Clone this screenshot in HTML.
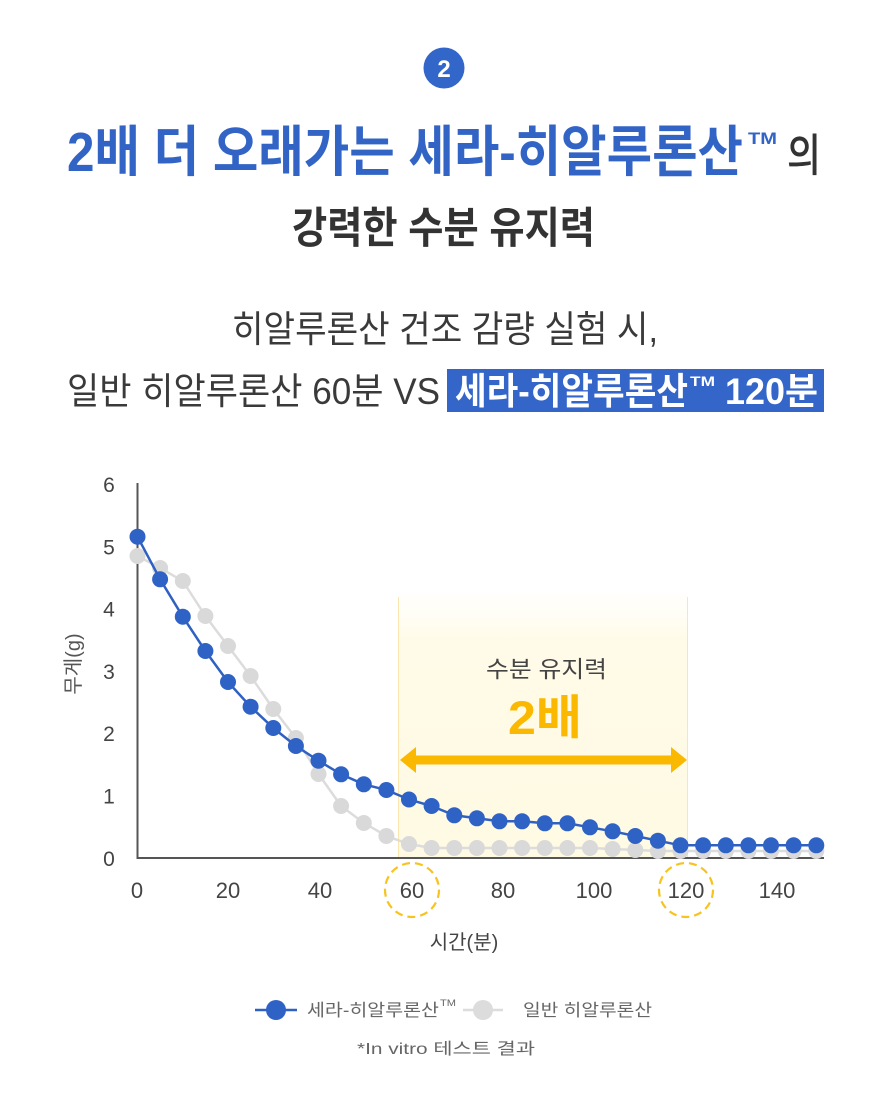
<!DOCTYPE html>
<html>
<head>
<meta charset="utf-8">
<style>
  html,body{margin:0;padding:0;background:#fff;}
  svg{display:block;}
  text{font-family:"Liberation Sans","Noto Sans CJK KR",sans-serif;}
</style>
</head>
<body>
<svg width="888" height="1097" viewBox="0 0 888 1097" xmlns="http://www.w3.org/2000/svg">
  <defs>
    <linearGradient id="hl" x1="0" y1="0" x2="0" y2="1">
      <stop offset="0" stop-color="#fffdf4" stop-opacity="0.3"/>
      <stop offset="0.18" stop-color="#fffbe8"/>
      <stop offset="1" stop-color="#fffae3"/>
    </linearGradient>
  </defs>
  <rect width="888" height="1097" fill="#fff"/>

  <!-- badge -->
  <circle cx="444" cy="68" r="20.5" fill="#3366c9"/>
  <text x="444" y="77" font-size="24" font-weight="bold" fill="#fff" text-anchor="middle">2</text>

  <!-- title -->
  <text x="67" y="171" font-size="55" font-weight="bold" fill="#3264c6" textLength="676" lengthAdjust="spacingAndGlyphs">2배 더 오래가는 세라-히알루론산</text>
  <text x="748" y="144" font-size="17" font-weight="bold" fill="#3264c6" textLength="29" lengthAdjust="spacingAndGlyphs">TM</text>
  <text x="787" y="171" font-size="45" font-weight="500" fill="#333" textLength="34" lengthAdjust="spacingAndGlyphs">의</text>
  <text x="292" y="243" font-size="43" font-weight="bold" fill="#333" textLength="303" lengthAdjust="spacingAndGlyphs">강력한 수분 유지력</text>

  <!-- subtitle -->
  <text x="232" y="342" font-size="37" fill="#3a3a3a" textLength="426" lengthAdjust="spacingAndGlyphs">히알루론산 건조 감량 실험 시,</text>
  <text x="67" y="404" font-size="37" fill="#3a3a3a" textLength="373" lengthAdjust="spacingAndGlyphs">일반 히알루론산 60분 VS</text>
  <rect x="447" y="369" width="377" height="43" fill="#3465c8"/>
  <text x="455" y="404" font-size="37" font-weight="bold" fill="#fff" textLength="233" lengthAdjust="spacingAndGlyphs">세라-히알루론산</text>
  <text x="690" y="386" font-size="14" font-weight="bold" fill="#fff" textLength="25" lengthAdjust="spacingAndGlyphs">TM</text>
  <text x="725" y="404" font-size="37" font-weight="bold" fill="#fff" textLength="93" lengthAdjust="spacingAndGlyphs">120분</text>

  <!-- highlight band -->
  <rect x="398" y="593" width="290" height="265" fill="url(#hl)"/>
  <line x1="398.5" y1="597" x2="398.5" y2="858" stroke="#fbe7ad" stroke-width="1"/>
  <line x1="687.5" y1="597" x2="687.5" y2="858" stroke="#fbe7ad" stroke-width="1"/>
  <text x="486" y="677" font-size="23" fill="#444" textLength="121" lengthAdjust="spacingAndGlyphs">수분 유지력</text>
  <text x="508" y="734" font-size="47" font-weight="bold" fill="#fbb800" textLength="74" lengthAdjust="spacingAndGlyphs">2배</text>
  <!-- arrow -->
  <rect x="412" y="755.5" width="262" height="9" fill="#fbb800"/>
  <polygon points="400,760 416,747 416,773" fill="#fbb800"/>
  <polygon points="687,760 671,747 671,773" fill="#fbb800"/>

  <!-- axes -->
  <line x1="137.5" y1="483" x2="137.5" y2="859" stroke="#555" stroke-width="2"/>
  <line x1="137" y1="858" x2="824" y2="858" stroke="#555" stroke-width="2"/>

  <!-- y tick labels -->
  <g font-size="21" fill="#444" text-anchor="middle">
    <text x="109" y="492">6</text>
    <text x="109" y="554.5">5</text>
    <text x="109" y="616.5">4</text>
    <text x="109" y="679">3</text>
    <text x="109" y="741">2</text>
    <text x="109" y="803.5">1</text>
    <text x="109" y="866">0</text>
  </g>
  <text transform="translate(80,664) rotate(-90)" font-size="20" fill="#555" text-anchor="middle">무게(g)</text>

  <!-- x tick labels -->
  <g font-size="22" fill="#444" text-anchor="middle">
    <text x="137" y="898">0</text>
    <text x="228" y="898">20</text>
    <text x="320" y="898">40</text>
    <text x="412" y="898">60</text>
    <text x="503" y="898">80</text>
    <text x="594" y="898">100</text>
    <text x="686" y="898">120</text>
    <text x="777" y="898">140</text>
  </g>
  <circle cx="412" cy="890" r="27" fill="none" stroke="#f7c31e" stroke-width="2.2" stroke-dasharray="8 5"/>
  <circle cx="686" cy="890" r="27" fill="none" stroke="#f7c31e" stroke-width="2.2" stroke-dasharray="8 5"/>
  <text x="464" y="949" font-size="20" fill="#444" text-anchor="middle">시간(분)</text>

  <!-- gray series -->
  <polyline fill="none" stroke="#dcdcdc" stroke-width="2.5" points="137.5,556 160.1,568 182.8,581 205.4,616 228,646 250.6,676 273.3,709 295.9,738 318.5,774 341.1,806 363.8,823 386.4,836 409,844 431.6,848 454.3,848 476.9,848 499.5,848 522.1,848 544.8,848 567.4,848 590,848 612.6,849 635.3,850 657.9,851 680.5,851 703.1,851 725.8,851 748.4,851 771,851 793.6,851 816.3,851"/>
  <g fill="#d9d9d9">
    <circle cx="137.5" cy="556" r="8"/><circle cx="160.1" cy="568" r="8"/><circle cx="182.8" cy="581" r="8"/><circle cx="205.4" cy="616" r="8"/><circle cx="228" cy="646" r="8"/><circle cx="250.6" cy="676" r="8"/><circle cx="273.3" cy="709" r="8"/><circle cx="295.9" cy="738" r="8"/><circle cx="318.5" cy="774" r="8"/><circle cx="341.1" cy="806" r="8"/><circle cx="363.8" cy="823" r="8"/><circle cx="386.4" cy="836" r="8"/><circle cx="409" cy="844" r="8"/><circle cx="431.6" cy="848" r="8"/><circle cx="454.3" cy="848" r="8"/><circle cx="476.9" cy="848" r="8"/><circle cx="499.5" cy="848" r="8"/><circle cx="522.1" cy="848" r="8"/><circle cx="544.8" cy="848" r="8"/><circle cx="567.4" cy="848" r="8"/><circle cx="590" cy="848" r="8"/><circle cx="612.6" cy="849" r="8"/><circle cx="635.3" cy="850" r="8"/><circle cx="657.9" cy="851" r="8"/><circle cx="680.5" cy="851" r="8"/><circle cx="703.1" cy="851" r="8"/><circle cx="725.8" cy="851" r="8"/><circle cx="748.4" cy="851" r="8"/><circle cx="771" cy="851" r="8"/><circle cx="793.6" cy="851" r="8"/><circle cx="816.3" cy="851" r="8"/>
  </g>

  <!-- blue series -->
  <polyline fill="none" stroke="#2f60c2" stroke-width="2.5" points="137.5,536.7 160.1,579.3 182.8,616.7 205.4,651 228,682 250.6,706.7 273.3,728 295.9,746 318.5,760.7 341.1,774.3 363.8,784.3 386.4,790 409,799.5 431.6,806 454.3,815.3 476.9,818.3 499.5,821.3 522.1,821.3 544.8,823.3 567.4,823.3 590,827.3 612.6,831.3 635.3,836 657.9,840.7 680.5,845.3 703.1,845.3 725.8,845.3 748.4,845.3 771,845.3 793.6,845.3 816.3,845.3"/>
  <g fill="#2f62c5">
    <circle cx="137.5" cy="536.7" r="8"/><circle cx="160.1" cy="579.3" r="8"/><circle cx="182.8" cy="616.7" r="8"/><circle cx="205.4" cy="651" r="8"/><circle cx="228" cy="682" r="8"/><circle cx="250.6" cy="706.7" r="8"/><circle cx="273.3" cy="728" r="8"/><circle cx="295.9" cy="746" r="8"/><circle cx="318.5" cy="760.7" r="8"/><circle cx="341.1" cy="774.3" r="8"/><circle cx="363.8" cy="784.3" r="8"/><circle cx="386.4" cy="790" r="8"/><circle cx="409" cy="799.5" r="8"/><circle cx="431.6" cy="806" r="8"/><circle cx="454.3" cy="815.3" r="8"/><circle cx="476.9" cy="818.3" r="8"/><circle cx="499.5" cy="821.3" r="8"/><circle cx="522.1" cy="821.3" r="8"/><circle cx="544.8" cy="823.3" r="8"/><circle cx="567.4" cy="823.3" r="8"/><circle cx="590" cy="827.3" r="8"/><circle cx="612.6" cy="831.3" r="8"/><circle cx="635.3" cy="836" r="8"/><circle cx="657.9" cy="840.7" r="8"/><circle cx="680.5" cy="845.3" r="8"/><circle cx="703.1" cy="845.3" r="8"/><circle cx="725.8" cy="845.3" r="8"/><circle cx="748.4" cy="845.3" r="8"/><circle cx="771" cy="845.3" r="8"/><circle cx="793.6" cy="845.3" r="8"/><circle cx="816.3" cy="845.3" r="8"/>
  </g>

  <!-- legend -->
  <line x1="255" y1="1010" x2="297" y2="1010" stroke="#2f60c2" stroke-width="2.5"/>
  <circle cx="276" cy="1010" r="10" fill="#2f62c5"/>
  <text x="307" y="1016" font-size="17" fill="#666" textLength="132" lengthAdjust="spacingAndGlyphs">세라-히알루론산</text>
  <text x="440" y="1006" font-size="9" fill="#666" textLength="16" lengthAdjust="spacingAndGlyphs">TM</text>
  <line x1="463" y1="1010" x2="503" y2="1010" stroke="#dcdcdc" stroke-width="2.5"/>
  <circle cx="483" cy="1010" r="10" fill="#dcdcdc"/>
  <text x="523" y="1016" font-size="17" fill="#666" textLength="129" lengthAdjust="spacingAndGlyphs">일반 히알루론산</text>

  <text x="357" y="1054" font-size="16" fill="#666" textLength="178" lengthAdjust="spacingAndGlyphs">*In vitro 테스트 결과</text>
</svg>
</body>
</html>
